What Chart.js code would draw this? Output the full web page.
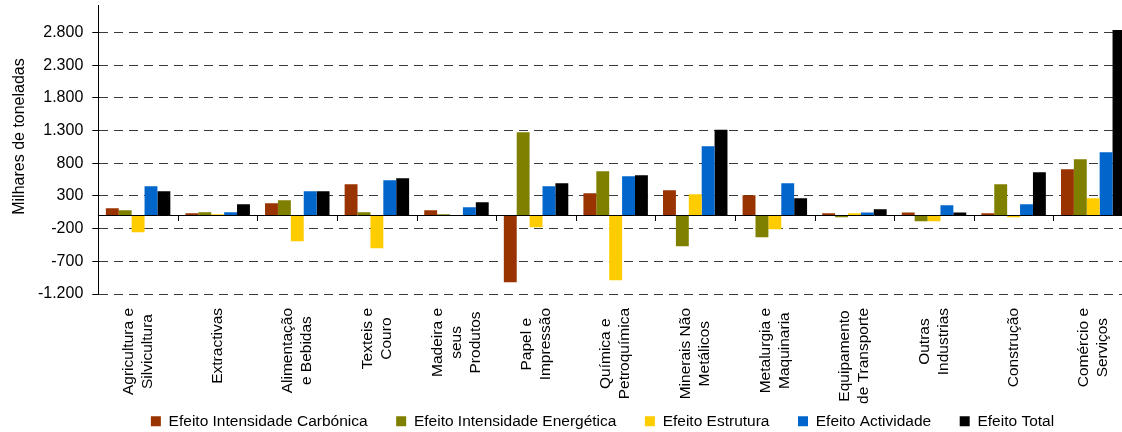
<!DOCTYPE html>
<html>
<head>
<meta charset="utf-8">
<script src="https://cdn.jsdelivr.net/npm/chart.js@4.4.0/dist/chart.umd.min.js"></script>
<style>
  html, body { margin: 0; padding: 0; background: #fff; }
  #wrap { width: 1122px; height: 432px; overflow: hidden; position: relative; }
  canvas { position: absolute; left: 0; top: 0; }
</style>
</head>
<body>
<div id="wrap"><canvas id="chart" width="1140" height="439"></canvas></div>
<script>
// Sectors, one entry per line of the (rotated) label
const sectors = [
    ['Agricultura e', 'Silvicultura'],
    ['Extractivas'],
    ['Alimentação', 'e Bebidas'],
    ['Texteis e', 'Couro'],
    ['Madeira e', 'seus', 'Produtos'],
    ['Papel e', 'Impressão'],
    ['Química e', 'Petroquímica'],
    ['Minerais Não', 'Metálicos'],
    ['Metalurgia e', 'Maquinaria'],
    ['Equipamento', 'de Transporte'],
    ['Outras', 'Industrias'],
    ['Construção'],
    ['Comércio e', 'Serviços'],
]

// Milhares de toneladas
const carbon_intensity = [112, 35, 188, 479, 81, -1020, 342, 388, 311, 35, 46, 35, 709]
const energy_intensity = [81, 50, 235, 50, 20, 1275, 679, -469, -332, -26, -87, 479, 862]
const structure = [-255, 20, -393, -500, 0, -179, -990, 327, -209, 35, -87, -26, 265]
const activity = [449, 50, 372, 540, 127, 449, 602, 1061, 494, 46, 158, 173, 969]
const total = [372, 173, 372, 571, 204, 494, 617, 1313, 265, 97, 46, 663, 2836]

const y_ticks = [-1200, -700, -200, 300, 800, 1300, 1800, 2300, 2800]
const y_tick_labels = ['-1.200', '-700', '-200', '300', '800', '1.300', '1.800', '2.300', '2.800']
const y_title = 'Milhares de toneladas'

Chart.defaults.font.family = '"Liberation Sans", Arial, sans-serif'
Chart.defaults.color = '#000'

const font_family = '"Liberation Sans", Arial, sans-serif'
const label_font = 15.5
const label_line = 19

// sector names (centred lines, rotated), y title, little ticks under the zero line
const sector_labels = {
    id: 'sector_labels',
    afterDraw(chart) {
        const {ctx, scales: {x, y}} = chart
        const zero = Math.round(y.getPixelForValue(0))
        ctx.save()
        ctx.strokeStyle = '#000'
        ctx.lineWidth = 1
        ctx.beginPath()
        for (let i = 1; i <= sectors.length; i++) {
            const px = Math.round((x.getPixelForValue(i - 1) + x.getPixelForValue(i)) / 2) + 0.5
            ctx.moveTo(px, zero)
            ctx.lineTo(px, zero + 5)
        }
        ctx.stroke()

        ctx.fillStyle = '#000'
        ctx.textAlign = 'center'
        ctx.textBaseline = 'middle'

        // axis title sits a bit above the middle of the plot, like the original
        ctx.font = `16px ${font_family}`
        ctx.save()
        ctx.translate(20, (y.top + y.bottom) / 2 - 13)
        ctx.rotate(-Math.PI / 2)
        ctx.fillText(y_title, 0, 0)
        ctx.restore()

        ctx.font = `${label_font}px ${font_family}`
        const top = x.top + 14
        sectors.forEach((lines, i) => {
            const cx = x.getPixelForValue(i)
            const widest = Math.max(...lines.map(l => ctx.measureText(l).width))
            lines.forEach((line, j) => {
                ctx.save()
                ctx.translate(cx + (j - (lines.length - 1) / 2) * label_line, top + widest / 2)
                ctx.rotate(-Math.PI / 2)
                ctx.fillText(line, 0, 0)
                ctx.restore()
            })
        })
        ctx.restore()
    }
}

const is_zero = c => c.tick && c.tick.value === 0
// left padding only moves the legend centre; the y axis is squeezed to fit
const pad_left = 72

new Chart(document.getElementById('chart'), {
    type: 'bar',
    data: {
        labels: sectors.map(s => s.join(' ')),
        datasets: [
            {label: 'Efeito Intensidade Carbónica', data: carbon_intensity, backgroundColor: '#993300'},
            {label: 'Efeito Intensidade Energética', data: energy_intensity, backgroundColor: '#808000'},
            {label: 'Efeito Estrutura', data: structure, backgroundColor: '#FFCC00'},
            {label: 'Efeito Actividade', data: activity, backgroundColor: '#0066CC'},
            {label: 'Efeito Total', data: total, backgroundColor: '#000000'},
        ]
    },
    options: {
        responsive: false,
        animation: false,
        devicePixelRatio: 1,
        datasets: {bar: {categoryPercentage: 0.81, barPercentage: 1, borderWidth: 0}},
        layout: {padding: {left: pad_left, right: 7, top: 5, bottom: 0}},
        plugins: {
            legend: {
                position: 'bottom',
                labels: {boxWidth: 10, boxHeight: 10, padding: 28.5, color: '#000', font: {size: 15.5}}
            },
            tooltip: {enabled: false}
        },
        scales: {
            x: {
                grid: {display: false},
                border: {display: false},
                ticks: {display: false},
                afterFit: s => { s.height = 91; s.paddingLeft = 0; s.paddingRight = 0 }
            },
            y: {
                min: -1200,
                max: 3220,
                afterBuildTicks: s => {
                    s.ticks = [...y_ticks, 0].sort((a, b) => a - b).map(v => ({value: v}))
                },
                afterFit: s => {
                    s.width = 98.3 - pad_left
                    s.paddingTop = 0
                    s.paddingBottom = 0
                    // labels are wider than the squeezed axis box, don't clip them
                    s._computeLabelArea = () => undefined
                },
                ticks: {
                    color: '#000',
                    font: {size: 16},
                    padding: 9,
                    callback: v => {
                        const i = y_ticks.indexOf(v)
                        return i < 0 ? '' : y_tick_labels[i]
                    }
                },
                grid: {
                    color: c => is_zero(c) ? '#000' : '#3a3a3a',
                    tickColor: c => is_zero(c) ? 'rgba(0,0,0,0)' : '#000',
                    tickLength: 6,
                    lineWidth: 1
                },
                border: {
                    color: '#000',
                    width: 1,
                    dash: c => (c.tick && c.tick.value !== 0) ? [9, 6] : []
                }
            }
        }
    },
    plugins: [sector_labels]
})
</script>
</body>
</html>
